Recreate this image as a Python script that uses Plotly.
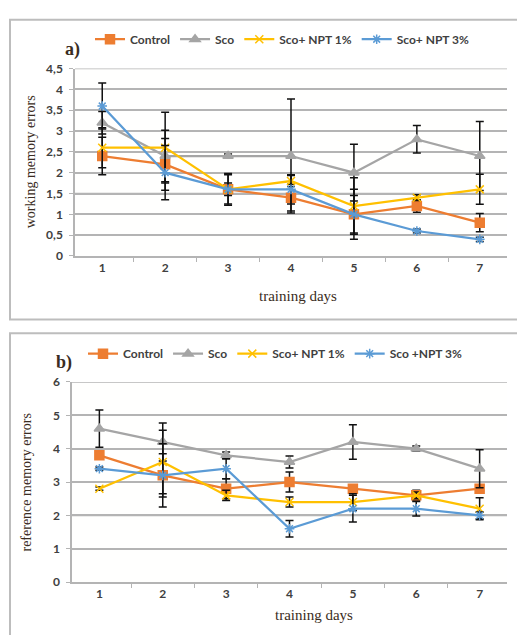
import plotly.graph_objects as go

days = [1, 2, 3, 4, 5, 6, 7]
series_names_a = ["Control", "Sco", "Sco+ NPT 1%", "Sco+ NPT 3%"]
series_names_b = ["Control", "Sco", "Sco+ NPT 1%", "Sco +NPT 3%"]

# a) working memory errors
wm_control = [2.4, 2.2, 1.6, 1.4, 1.0, 1.2, 0.8]
wm_control_err = [0.45, 0.62, 0.38, 0.32, 0.6, 0.15, 0.22]
wm_sco = [3.2, 2.4, 2.4, 2.4, 2.0, 2.8, 2.4]
wm_sco_err = [0.27, 0.62, 0.05, 1.37, 0.68, 0.33, 0.83]
wm_npt1 = [2.6, 2.6, 1.6, 1.8, 1.2, 1.4, 1.6]
wm_npt1_err = [0.48, 0.85, 0.15, 0.13, 0.68, 0.07, 0.36]
wm_npt3 = [3.6, 2.0, 1.6, 1.6, 1.0, 0.6, 0.4]
wm_npt3_err = [0.55, 0.65, 0.35, 0.35, 0.45, 0.05, 0.05]

# b) reference memory errors
rm_control = [3.8, 3.2, 2.8, 3.0, 2.8, 2.6, 2.8]
rm_control_err = [0.1, 0.65, 0.3, 0.3, 0.1, 0.15, 0.1]
rm_sco = [4.6, 4.2, 3.8, 3.6, 4.2, 4.0, 3.4]
rm_sco_err = [0.56, 0.57, 0.1, 0.18, 0.52, 0.08, 0.57]
rm_npt1 = [2.8, 3.6, 2.6, 2.4, 2.4, 2.6, 2.2]
rm_npt1_err = [0.05, 0.95, 0.15, 0.15, 0.25, 0.1, 0.33]
rm_npt3 = [3.4, 3.2, 3.4, 1.6, 2.2, 2.2, 2.0]
rm_npt3_err = [0.05, 0.95, 0.3, 0.25, 0.4, 0.22, 0.1]

yticks_a = [0, 0.5, 1, 1.5, 2, 2.5, 3, 3.5, 4, 4.5]
yticks_b = [0, 1, 2, 3, 4, 5, 6]

colors = ["#ED7D31", "#A5A5A5", "#FFC000", "#5B9BD5"]
symbols = ["square", "triangle-up", "x-thin-open", "asterisk-open"]
msizes = [9, 9, 8, 8]

W, H = 517, 635
def px(x):
    return x / W
def py(y):
    return 1 - y / H

fig = go.Figure()
groups = [("x", "y", "legend", series_names_a,
           [wm_control, wm_sco, wm_npt1, wm_npt3],
           [wm_control_err, wm_sco_err, wm_npt1_err, wm_npt3_err]),
          ("x2", "y2", "legend2", series_names_b,
           [rm_control, rm_sco, rm_npt1, rm_npt3],
           [rm_control_err, rm_sco_err, rm_npt1_err, rm_npt3_err])]
for xa, ya, lg, names, vals, errs in groups:
    for i in range(4):
        fig.add_trace(go.Scatter(
            x=days, y=vals[i], name=names[i], xaxis=xa, yaxis=ya, legend=lg,
            mode="lines+markers", line=dict(color=colors[i], width=2.25),
            marker=dict(symbol=symbols[i], size=msizes[i], color=colors[i],
                        line=dict(color=colors[i], width=1.5)),
            error_y=dict(type="data", array=errs[i], visible=True,
                         color="#111111", thickness=1.5, width=4)))

tickfont = dict(family="Lato, Open Sans, sans-serif", size=12, color="#404040", weight="bold")
grid = "#b4b4b4"

xcommon = dict(type="category", tickson="boundaries", ticks="outside", ticklen=4,
               tickcolor=grid, showline=True, linecolor=grid, linewidth=1.5,
               showgrid=False, tickfont=tickfont)
ycommon = dict(ticks="outside", ticklen=4, tickcolor=grid, showline=True, linecolor=grid,
               linewidth=1.5, showgrid=True, gridcolor=grid, gridwidth=1.5, zeroline=False,
               tickfont=tickfont, ticklabelstandoff=4, tickmode="array")

legfont = dict(family="Lato, Open Sans, sans-serif", size=12, color="#404040", weight="bold")
fig.update_layout(
    width=W, height=H, margin=dict(l=0, r=0, t=0, b=0), separators=", ",
    paper_bgcolor="#ffffff", plot_bgcolor="#fffffe",
    xaxis=dict(domain=[px(75), px(507)], anchor="y", **xcommon),
    yaxis=dict(domain=[py(254), py(62)], anchor="x", range=[0, 4.5], tickvals=yticks_a, **ycommon),
    xaxis2=dict(domain=[px(72), px(507)], anchor="y2", **xcommon),
    yaxis2=dict(domain=[py(588), py(383)], anchor="x2", range=[0, 6], tickvals=yticks_b, **ycommon),
    legend=dict(orientation="h", x=px(90), y=py(32), xanchor="left", yanchor="middle",
                font=legfont, bgcolor="rgba(0,0,0,0)"),
    legend2=dict(orientation="h", x=px(83), y=py(354), xanchor="left", yanchor="middle",
                 font=legfont, bgcolor="rgba(0,0,0,0)"),
)

# horizontal gridlines at the y tick values (through the axis scales)
for xr, yr, ticks in [("x domain", "y", yticks_a), ("x2 domain", "y2", yticks_b)]:
    for v in ticks[1:]:
        fig.add_shape(type="line", xref=xr, yref=yr, x0=0, x1=1, y0=v, y1=v,
                      line=dict(color=grid, width=1.5), layer="below")

serif = "Liberation Serif, DejaVu Serif, serif"
title_color = "#3a2c22"
annots = [
    dict(text="a)", x=px(72), y=py(42), size=18, angle=0, bold=True),
    dict(text="b)", x=px(64), y=py(363), size=18, angle=0, bold=True),
    dict(text="working memory errors", x=px(30), y=py(158), size=14, angle=-90, bold=False),
    dict(text="reference memory errors", x=px(27), y=py(486), size=14, angle=-90, bold=False),
    dict(text="training days", x=px(298), y=py(295), size=15, angle=0, bold=False),
    dict(text="training days", x=px(314), y=py(622), size=15, angle=0, bold=False),
]
for a in annots:
    t = "<b>%s</b>" % a["text"] if a["bold"] else a["text"]
    fig.add_annotation(text=t, x=a["x"], y=a["y"], xref="paper", yref="paper",
                       showarrow=False, textangle=a["angle"],
                       font=dict(family=serif, size=a["size"], color=title_color),
                       xanchor="center", yanchor="middle")

fig.add_shape(type="rect", xref="paper", yref="paper",
              x0=px(10), x1=px(530), y0=py(319), y1=py(12),
              line=dict(color="#bdbdbd", width=2), fillcolor="rgba(0,0,0,0)", layer="above")
fig.add_shape(type="rect", xref="paper", yref="paper",
              x0=px(10), x1=px(530), y0=py(660), y1=py(333),
              line=dict(color="#bdbdbd", width=2), fillcolor="rgba(0,0,0,0)", layer="above")

fig.write_html("out.html", config={"displayModeBar": False},
               post_script="document.body.style.margin='0';document.body.style.overflow='hidden';")
